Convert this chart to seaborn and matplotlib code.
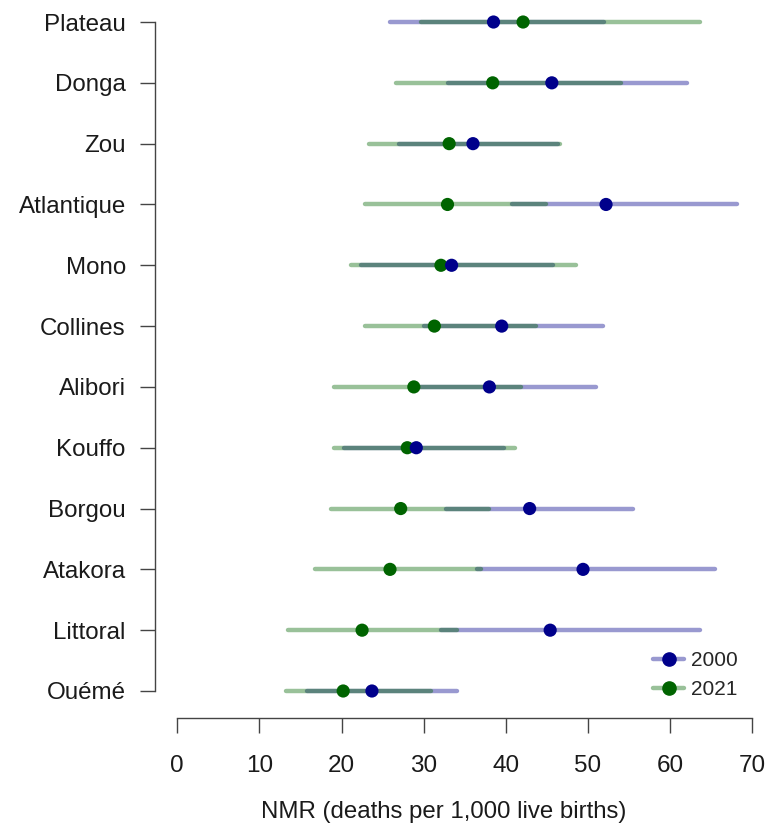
import numpy as np
import pandas as pd
import matplotlib
matplotlib.use("Agg")
import matplotlib.pyplot as plt
import seaborn as sns
from matplotlib.lines import Line2D

regions = ["Plateau", "Donga", "Zou", "Atlantique", "Mono", "Collines",
           "Alibori", "Kouffo", "Borgou", "Atakora", "Littoral", "Ouémé"]
nmr_2000 = [38.5, 45.6, 36.0, 52.2, 33.4, 39.5, 38.0, 29.1, 42.9, 49.4, 45.4, 23.7]
low_2000 = [25.9, 33.0, 27.0, 40.7, 22.4, 30.0, 29.0, 20.3, 32.7, 36.5, 32.1, 15.8]
high_2000 = [52.0, 62.1, 46.4, 68.2, 45.8, 51.8, 51.0, 39.8, 55.5, 65.5, 63.7, 34.0]
nmr_2021 = [42.1, 38.4, 33.1, 32.9, 32.1, 31.3, 28.8, 28.0, 27.2, 25.9, 22.5, 20.2]
low_2021 = [29.7, 26.6, 23.3, 22.9, 21.1, 22.9, 19.1, 19.1, 18.7, 16.8, 13.5, 13.2]
high_2021 = [63.6, 54.0, 46.6, 44.9, 48.5, 43.7, 41.8, 41.1, 38.0, 37.0, 34.0, 30.9]
years = ["2000", "2021"]
x_ticks = [0, 10, 20, 30, 40, 50, 60, 70]
x_label = "NMR (deaths per 1,000 live births)"

df = pd.DataFrame({
    "region": regions * 2,
    "year": [years[0]] * len(regions) + [years[1]] * len(regions),
    "nmr": nmr_2000 + nmr_2021,
    "low": low_2000 + low_2021,
    "high": high_2000 + high_2021,
})

sns.set_theme(style="white")
plt.rcParams["font.family"] = ["Liberation Sans", "DejaVu Sans"]

dot_colors = {"2000": "#00008B", "2021": "#006400"}
line_alpha = 0.4
text_color = "#1a1a1a"

fig = plt.figure(figsize=(7.69, 8.25), dpi=100)
ax = fig.add_axes([155 / 769, 1 - 718 / 825, 614 / 769, 718 / 825])

ypos = {r: i for i, r in enumerate(regions)}

# interval lines: 2000 first, then 2021 on top
for yr in years:
    sub = df[df["year"] == yr]
    ax.hlines([ypos[r] for r in sub["region"]], sub["low"], sub["high"],
              colors=dot_colors[yr], alpha=line_alpha, linewidth=3.2,
              capstyle="round", zorder=2)

# points: 2021 first, 2000 on top
for yr in ["2021", "2000"]:
    sub = df[df["year"] == yr].copy()
    sub["ypos"] = [ypos[r] for r in sub["region"]]
    sns.scatterplot(data=sub, x="nmr", y="ypos", color=dot_colors[yr],
                    s=90, edgecolor="none", linewidth=0, legend=False,
                    ax=ax, zorder=3)

ax.set_ylim(11.444, -0.362)
ax.set_xlim(-2.71, 72.04)
ax.set_yticks(range(len(regions)))
ax.set_yticklabels(regions, fontsize=17.4, color=text_color)
ax.set_xticks(x_ticks)
ax.set_xticklabels([str(t) for t in x_ticks], fontsize=17.5, color=text_color)
ax.set_xlabel(x_label, fontsize=17.3, color=text_color)
ax.xaxis.set_label_coords((444 - 155) / 614, -(812 - 718) / 718)
ax.xaxis.label.set_verticalalignment("center")
ax.set_ylabel("")

for s in ["top", "right"]:
    ax.spines[s].set_visible(False)
ax.spines["left"].set_bounds(0, 11)
ax.spines["bottom"].set_bounds(0, 70)
for s in ["left", "bottom"]:
    ax.spines[s].set_color("#444444")
    ax.spines[s].set_linewidth(1.0)

ax.tick_params(axis="y", which="both", left=True, length=11, width=1.0,
               color="#444444", pad=10)
ax.tick_params(axis="x", which="both", bottom=True, length=11, width=1.0,
               color="#444444", pad=16)
ax.grid(False)
ax.set_facecolor("white")

handles = [
    Line2D([0], [0], color=(0, 0, 0.545, line_alpha), lw=3.2,
           marker="o", markersize=9.5, markerfacecolor=dot_colors["2000"],
           markeredgecolor=dot_colors["2000"]),
    Line2D([0], [0], color=(0, 0.392, 0, line_alpha), lw=3.2,
           marker="o", markersize=9.5, markerfacecolor=dot_colors["2021"],
           markeredgecolor=dot_colors["2021"]),
]
fig.legend(handles, years, loc="upper left",
           bbox_to_anchor=(653 / 769, 1 - 651 / 825), frameon=False,
           fontsize=15, handlelength=1.5, handletextpad=0.3,
           labelspacing=0.5, borderpad=0, borderaxespad=0)

fig.savefig("out.png", dpi=100, facecolor="white")
